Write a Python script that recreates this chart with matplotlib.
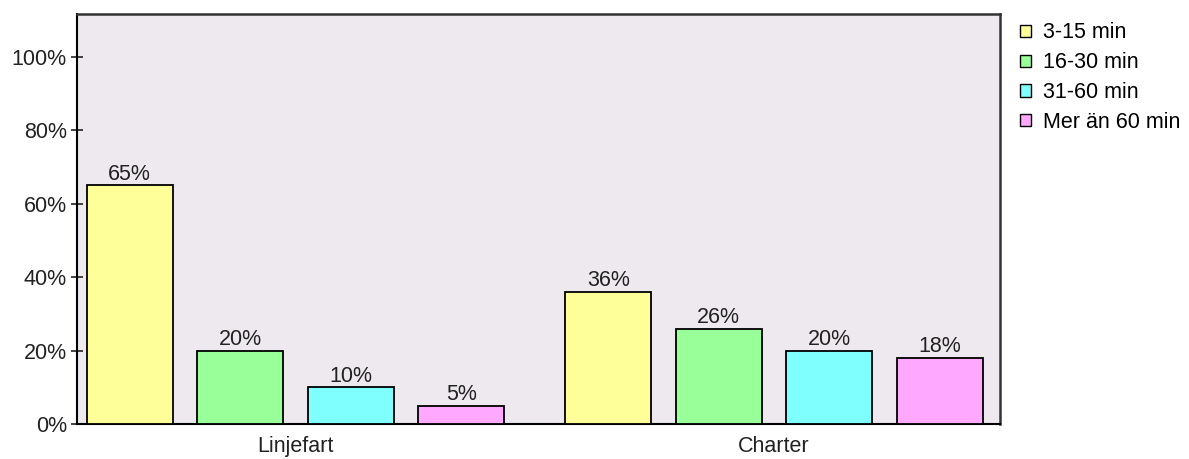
import numpy as np
import matplotlib
matplotlib.use('Agg')
from matplotlib import pyplot as plt
from matplotlib.patches import Patch

# travel time shares per trip type
groups = ['Linjefart', 'Charter']
series = ['3-15 min', '16-30 min', '31-60 min', 'Mer än 60 min']
linjefart = [65, 20, 10, 5]
charter = [36, 26, 20, 18]
colors = ['#FFFF99', '#99FF99', '#80FFFF', '#FFA8FF']
yticks = [0, 20, 40, 60, 80, 100]

values = np.array([linjefart, charter])

plt.rcParams['font.family'] = ['Liberation Sans', 'DejaVu Sans']
plt.rcParams['font.size'] = 15.5

fig = plt.figure(figsize=(11.89, 4.59), dpi=100)
ax = fig.add_axes([0.0648, 0.0763, 0.7763, 0.8932])
ax.set_facecolor('#EEE9EE')

group_pos = np.array([0.0, 4.33])
width = 0.78
for i, name in enumerate(series):
    xs = group_pos + (i - 1.5)
    bars = ax.bar(xs, values[:, i], width=width, color=colors[i],
                  edgecolor='black', linewidth=1.3, label=name, zorder=3)
    for b, v in zip(bars, values[:, i]):
        ax.annotate('%d%%' % v, (b.get_x() + b.get_width() / 2, v),
                    xytext=(0, 0.5), textcoords='offset points',
                    ha='center', va='bottom', color='#222222')

ax.set_xlim(-1.977, 6.376)
ax.set_ylim(0, 111.7)
ax.set_yticks(yticks)
ax.set_yticklabels(['%d%%' % t for t in yticks])
ax.set_xticks(group_pos)
ax.set_xticklabels(groups)
ax.tick_params(axis='y', direction='inout', length=8.5, width=1.2, pad=3,
               colors='#222222')
ax.tick_params(axis='x', length=0, pad=9, colors='#222222')

for side in ['left', 'bottom']:
    ax.spines[side].set_linewidth(1.5)
    ax.spines[side].set_color('black')
for side in ['top', 'right']:
    ax.spines[side].set_linewidth(1.8)
    ax.spines[side].set_color('#333333')

handles = [Patch(facecolor=c, edgecolor='black', linewidth=1.0) for c in colors]
fig.legend(handles, series, loc='upper left', bbox_to_anchor=(0.858, 0.951),
           frameon=False, borderpad=0, borderaxespad=0,
           handlelength=0.5, handleheight=0.5,
           handletextpad=0.55, labelspacing=0.41)

fig.savefig('out.png', dpi=100)
